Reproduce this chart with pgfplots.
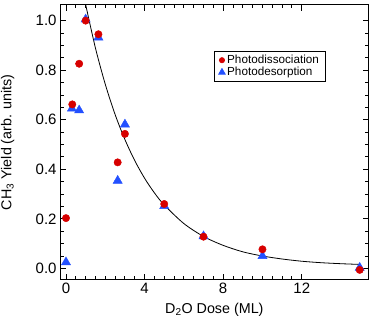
\documentclass[border=0pt]{standalone}
\usepackage{pgfplots}
\pgfplotsset{compat=1.18}
\usepackage{fontspec}
\setmainfont{Liberation Sans}
\definecolor{dotred}{RGB}{215,0,0}
\definecolor{triblue}{RGB}{35,80,255}
\begin{document}
\begin{tikzpicture}
\begin{axis}[
  scale only axis, width=307bp, height=274bp,
  xmin=-0.3, xmax=15.4, ymin=-0.046, ymax=1.065,
  xtick={0,4,8,12}, minor x tick num=7,
  ytick={0,0.2,...,1.0}, minor y tick num=3,
  yticklabel style={/pgf/number format/.cd, fixed, fixed zerofill, precision=1},
  /pgf/number format/assume math mode=true,
  tick label style={font=\fontsize{15}{17}\selectfont},
  label style={font=\fontsize{14.3}{16}\selectfont},
  major tick length=6bp, minor tick length=3.5bp,
  tick style={black, line width=0.9pt},
  axis line style={line width=0.9pt},
  xlabel={D\textsubscript{2}O Dose (ML)},
  ylabel={CH\textsubscript{3} Yield (arb. units)},
  xlabel style={at={(rel axis cs:0.5,-0.1095)}, anchor=center, inner sep=1bp},
  ylabel style={at={(rel axis cs:-0.17,0.5)}, anchor=center, inner sep=1bp},
  legend style={at={(0.5,0.832)}, anchor=north west, draw=black, line width=0.8pt,
    font=\fontsize{11.7}{12}\selectfont, inner xsep=4bp, inner ysep=3bp,
    nodes={inner ysep=0.5bp, text height=8.5bp, text depth=2.5bp}},
  legend image post style={scale=0.7},
  legend cell align=left, reverse legend,
]
\addplot[black, line width=0.8pt, smooth, forget plot] coordinates {
 (1.0,1.065) (1.5,0.889) (2,0.743) (2.5,0.621) (3,0.520) (3.5,0.435)
 (4,0.364) (4.5,0.305) (5,0.256) (6,0.181) (7,0.129) (8,0.093)
 (9,0.067) (10,0.050) (11,0.038) (12,0.029) (13,0.023) (14,0.019) (15,0.016)};
\addplot[only marks, mark=triangle*, mark size=5.3pt, color=triblue] coordinates {
 (0,0.025) (0.3,0.645) (0.67,0.638) (1.0,1.005) (1.65,0.932) (2.63,0.354)
 (3.0,0.581) (5.0,0.252) (7.0,0.13) (10.0,0.05) (14.95,0.003)};
\addlegendentry{Photodesorption}
\addplot[only marks, mark=*, mark size=3.7pt, color=dotred] coordinates {
 (0,0.203) (0.32,0.662) (0.67,0.826) (1.0,1.0) (1.65,0.945) (2.63,0.428)
 (3.0,0.543) (5.0,0.26) (7.0,0.128) (10.0,0.077) (14.95,-0.006)};
\addlegendentry{Photodissociation}
\end{axis}
\path (current axis.north) ++(0,4.5bp);
\end{tikzpicture}
\end{document}
